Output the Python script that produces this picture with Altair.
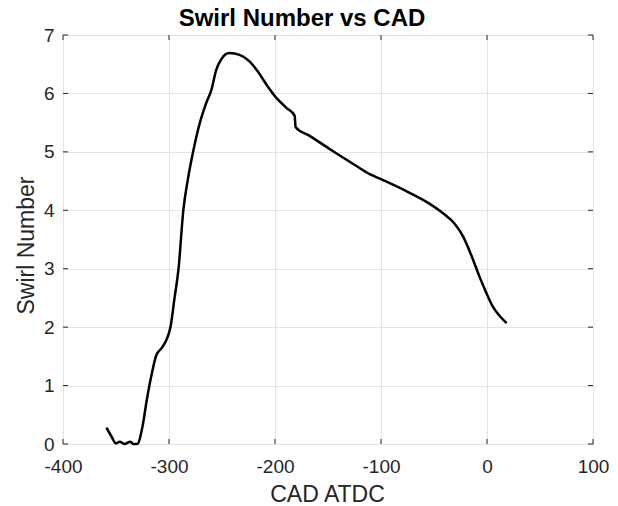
import altair as alt
import pandas as pd

# Swirl number traced against crank angle (degrees after TDC)
cad = [-359, -354, -350, -346.5, -342, -336.5, -333.5, -330, -325, -321, -316.5,
       -312, -307, -302.5, -298.5, -295, -291, -286.5, -282, -277.5, -271, -265,
       -260, -255.5, -250.5, -243, -233.5, -224, -216, -208, -198.5, -189, -181.5,
       -180.5, -167, -148.5, -125, -110.7, -101, -77.5, -54, -41.5, -30.5, -22.5,
       -15, -7, -0.5, 5.5, 12, 18.5]
swirl = [0.28, 0.12, 0.01, 0.04, 0.00, 0.04, 0.00, 0.00, 0.30, 0.75, 1.18,
         1.52, 1.64, 1.78, 2.01, 2.47, 3.00, 4.00, 4.55, 4.98, 5.49, 5.83,
         6.06, 6.40, 6.59, 6.69, 6.66, 6.55, 6.37, 6.15, 5.92, 5.75, 5.62,
         5.42, 5.27, 5.05, 4.78, 4.62, 4.54, 4.34, 4.11, 3.95, 3.77, 3.55,
         3.24, 2.86, 2.58, 2.35, 2.19, 2.07]

x_ticks = [-400, -300, -200, -100, 0, 100]
y_ticks = [0, 1, 2, 3, 4, 5, 6, 7]

W, H = 530, 409
FONT = "Liberation Sans"
INK = "#262626"
GRID = "#e3e3e3"

df = pd.DataFrame({"cad": cad, "swirl": swirl})
xt = pd.DataFrame({"cad": x_ticks})
yt = pd.DataFrame({"swirl": y_ticks})

xscale = alt.Scale(domain=[-400, 100], nice=False, zero=False)
yscale = alt.Scale(domain=[0, 7], nice=False, zero=False)

# plain hyphen for negative tick labels
plain = "'' + datum.value"

xaxis = alt.Axis(values=x_ticks, grid=True, gridColor=GRID, ticks=False,
                 domain=False, labelFlush=False, labelOverlap=False,
                 labelExpr=plain,
                 labelFontSize=19, labelColor=INK, labelFont=FONT,
                 labelBaseline="alphabetic", labelPadding=28,
                 titleFont=FONT, titleFontSize=23, titleFontWeight="normal",
                 titleColor=INK, titleX=264, titleY=57,
                 titleBaseline="alphabetic", titleAlign="center")
yaxis = alt.Axis(values=y_ticks, grid=True, gridColor=GRID, ticks=False,
                 domain=False, labelFlush=False, labelOverlap=False,
                 labelExpr=plain,
                 labelFontSize=19, labelColor=INK, labelFont=FONT,
                 labelPadding=9,
                 titleFont=FONT, titleFontSize=23, titleFontWeight="normal",
                 titleColor=INK, titleX=-30, titleY=210, titleAngle=270,
                 titleBaseline="alphabetic", titleAlign="center")

X = alt.X("cad:Q", scale=xscale, title="CAD ATDC", axis=xaxis)
Y = alt.Y("swirl:Q", scale=yscale, title="Swirl Number", axis=yaxis)

line = alt.Chart(df).mark_line(
    color="black", strokeWidth=2.5, interpolate="monotone"
).encode(x=X, y=Y)

# inward tick marks on all four sides of the box
tick_style = dict(color=INK, strokeWidth=1)
bottom = alt.Chart(xt).mark_rule(**tick_style).encode(
    x=X, y=alt.value(H), y2=alt.value(H - 5))
top = alt.Chart(xt).mark_rule(**tick_style).encode(
    x=X, y=alt.value(0), y2=alt.value(5))
left = alt.Chart(yt).mark_rule(**tick_style).encode(
    y=Y, x=alt.value(0), x2=alt.value(5))
right = alt.Chart(yt).mark_rule(**tick_style).encode(
    y=Y, x=alt.value(W), x2=alt.value(W - 5))

chart = alt.layer(line, bottom, top, left, right).properties(
    width=W, height=H,
    title=alt.TitleParams("Swirl Number vs CAD", font=FONT, fontSize=24,
                          fontWeight="bold", color="black", anchor="middle",
                          baseline="alphabetic", offset=0, dy=24, dx=-26),
    autosize=alt.AutoSizeParams(type="none"),
    padding={"left": 63, "top": 35, "right": 25, "bottom": 62},
).configure_view(
    stroke="#4d4d4d", strokeWidth=1
).configure(background="white")

chart.save("out.html", embed_options={"renderer": "svg", "actions": False})
